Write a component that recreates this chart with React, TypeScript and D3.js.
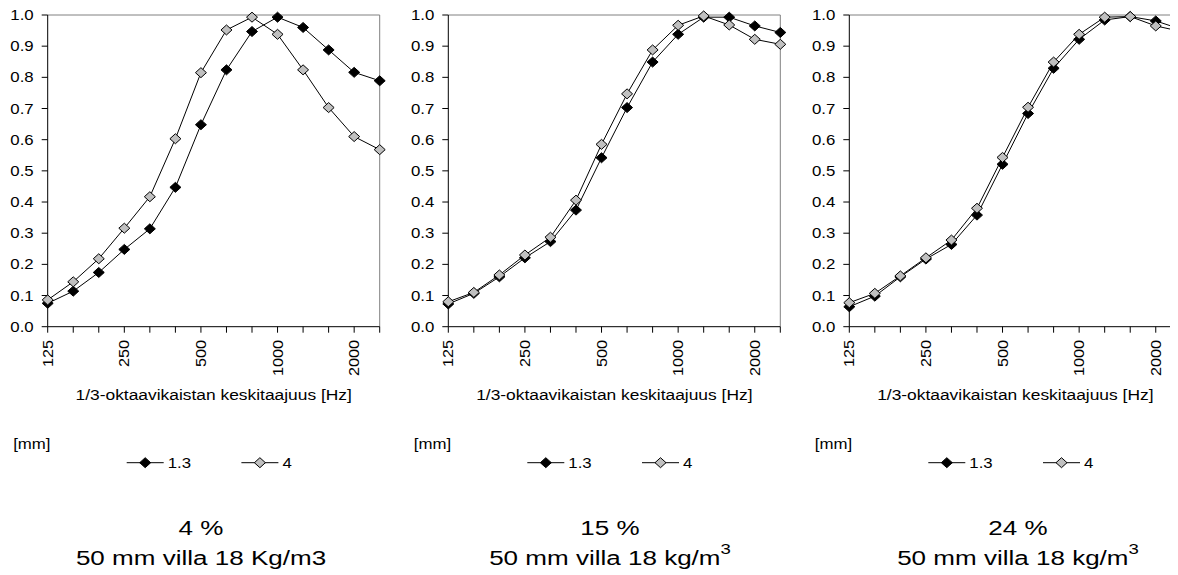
import * as d3 from 'd3';
import React from 'react';

// 1/3-octave band centre frequencies
const freqs = [125, 160, 200, 250, 315, 400, 500, 630, 800, 1000, 1250, 1600, 2000, 2500];
const tickFreqs = [125, 250, 500, 1000, 2000];
const yTicks = [0, 0.1, 0.2, 0.3, 0.4, 0.5, 0.6, 0.7, 0.8, 0.9, 1.0];

const seriesNames = ['1.3', '4'];

// 4 %
const p4_13 = [0.075, 0.114, 0.174, 0.248, 0.314, 0.447, 0.648, 0.824, 0.947, 0.993, 0.96, 0.888, 0.816, 0.789];
const p4_4 = [0.086, 0.144, 0.218, 0.316, 0.417, 0.603, 0.815, 0.952, 0.993, 0.938, 0.824, 0.703, 0.61, 0.568];
// 15 %
const p15_13 = [0.073, 0.107, 0.16, 0.221, 0.273, 0.374, 0.542, 0.703, 0.849, 0.938, 0.993, 0.993, 0.965, 0.944];
const p15_4 = [0.08, 0.11, 0.166, 0.23, 0.287, 0.406, 0.585, 0.747, 0.888, 0.967, 0.997, 0.968, 0.922, 0.906];
// 24 %
const p24_13 = [0.064, 0.098, 0.16, 0.217, 0.264, 0.358, 0.521, 0.684, 0.829, 0.922, 0.984, 0.995, 0.981, 0.954];
const p24_4 = [0.077, 0.107, 0.163, 0.221, 0.278, 0.38, 0.543, 0.704, 0.849, 0.938, 0.993, 0.995, 0.965, 0.947];

const panels = [
	{ left: 47.7, titleX: 201, pct: '4 %', unit: 'Kg/m3', sup: false, data: [p4_13, p4_4] },
	{ left: 448.3, titleX: 610, pct: '15 %', unit: 'kg/m', sup: true, data: [p15_13, p15_4] },
	{ left: 849.3, titleX: 1018, pct: '24 %', unit: 'kg/m', sup: true, data: [p24_13, p24_4] },
];

const width = 1170;
const height = 567;
const plotW = 332;
const plotTop = 15;
const plotBottom = 326.7;
const font = 'Liberation Sans, Arial, sans-serif';
const SX = 1.2;
const fills = ['#000000', '#c0c0c0'];

const diamond = 'M0,-5L5.5,0L0,5L-5.5,0Z';

const yScale = d3.scaleLinear().domain([0, 1]).range([plotBottom, plotTop]);

const Panel = ({ p }: { p: (typeof panels)[number] }) => {
	const xScale = d3
		.scalePoint<number>()
		.domain(freqs)
		.range([p.left, p.left + plotW]);
	const line = d3
		.line<number>()
		.x((_, i) => xScale(freqs[i]) as number)
		.y(d => yScale(d));
	const legX = p.left + 79;
	return (
		<g fontFamily={font} fill="#000">
			{/* frame */}
			<line x1={p.left} x2={p.left + plotW} y1={plotTop} y2={plotTop} stroke="#808080" />
			<line x1={p.left + plotW} x2={p.left + plotW} y1={plotTop} y2={plotBottom} stroke="#808080" />
			<line x1={p.left} x2={p.left} y1={plotTop} y2={plotBottom} stroke="#000" />
			<line x1={p.left} x2={p.left + plotW} y1={plotBottom} y2={plotBottom} stroke="#000" />
			{yTicks.map(t => (
				<g key={t}>
					<line x1={p.left - 6} x2={p.left} y1={yScale(t)} y2={yScale(t)} stroke="#000" />
					<text
						transform={`translate(${p.left - 14},${yScale(t)}) scale(${SX},1)`}
						textAnchor="end"
						dy="0.36em"
						fontSize={14}
					>
						{t.toFixed(1)}
					</text>
				</g>
			))}
			{freqs.map(f => (
				<line
					key={f}
					x1={xScale(f)}
					x2={xScale(f)}
					y1={plotBottom}
					y2={plotBottom + 6}
					stroke="#000"
				/>
			))}
			{tickFreqs.map(f => (
				<text
					key={f}
					transform={`translate(${xScale(f)},340) rotate(-90) scale(1.16,1)`}
					textAnchor="end"
					dy="0.36em"
					fontSize={14}
				>
					{f}
				</text>
			))}
			<text
				transform={`translate(${p.left + plotW / 2},400) scale(${SX},1)`}
				textAnchor="middle"
				fontSize={14.5}
			>
				1/3-oktaavikaistan keskitaajuus [Hz]
			</text>
			{p.data.map((s, si) => (
				<g key={si}>
					<path d={line(s) || ''} fill="none" stroke="#000" strokeWidth={1} />
					{s.map((v, i) => (
						<path
							key={i}
							d={diamond}
							transform={`translate(${xScale(freqs[i])},${yScale(v)})`}
							fill={fills[si]}
							stroke="#000"
							strokeWidth={1}
						/>
					))}
				</g>
			))}
			{/* legend */}
			<text transform={`translate(${p.left - 34.5},449) scale(${SX},1)`} fontSize={14}>
				[mm]
			</text>
			{seriesNames.map((n, i) => (
				<g key={n} transform={`translate(${legX + i * 114.7},462.7)`}>
					<line x1={0} x2={37} y1={0} y2={0} stroke="#000" />
					<path d={diamond} transform="translate(18.5,0)" fill={fills[i]} stroke="#000" />
					<text transform={`translate(41,5) scale(${SX},1)`} fontSize={14}>
						{n}
					</text>
				</g>
			))}
			{/* title */}
			<text transform={`translate(${p.titleX},535) scale(1.24,1)`} textAnchor="middle" fontSize={21}>
				{p.pct}
			</text>
			<text transform={`translate(${p.titleX},565) scale(1.24,1)`} textAnchor="middle" fontSize={21}>
				{`50 mm villa 18 ${p.unit}`}
				{p.sup && (
					<tspan fontSize={15} dy={-11}>
						3
					</tspan>
				)}
			</text>
		</g>
	);
};

const App = () => {
	return (
		<svg width={width} height={height} style={{ display: 'block', overflow: 'hidden' }}>
			<rect width={width} height={height} fill="#fff" />
			<g transform="translate(-8,-8)">
				{panels.map(p => (
					<Panel key={p.pct} p={p} />
				))}
			</g>
		</svg>
	);
};

export default App;
